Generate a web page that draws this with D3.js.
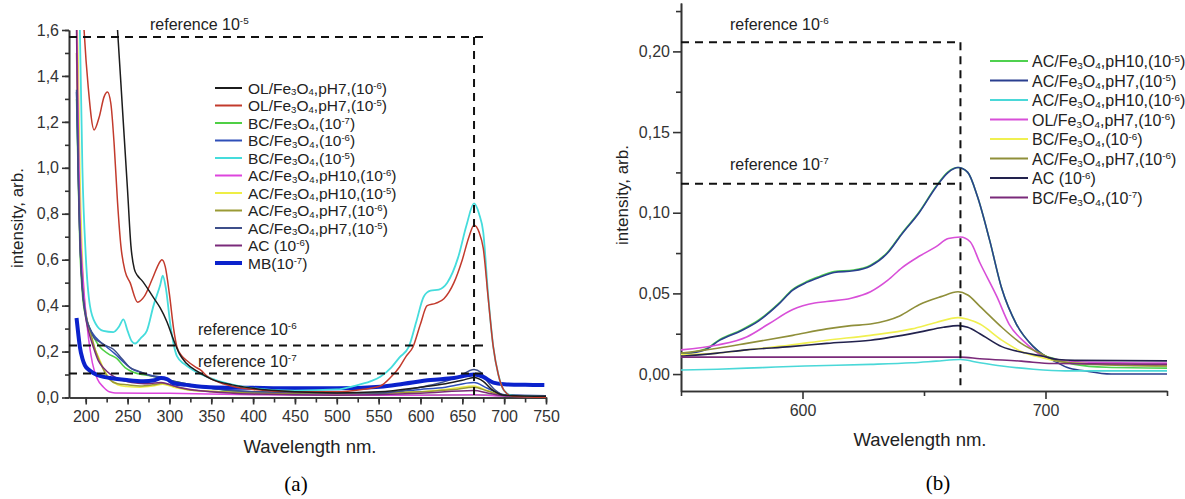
<!DOCTYPE html>
<html>
<head>
<meta charset="utf-8">
<script src="https://cdn.jsdelivr.net/npm/d3@7"></script>
<style>
  body { margin: 0; background: #fff; }
  svg { font-family: "Liberation Sans", Arial, sans-serif; }
  .axis path, .axis line { stroke: #333; stroke-width: 1.6; }
  .axis text { fill: #333; font-size: 16px; font-family: "Liberation Sans", Arial, sans-serif; }
</style>
</head>
<body>
<svg id="chart" width="1185" height="499"></svg>
<script>
// ---------- panel (a) data: [wavelength nm, intensity] ----------
const olPh7_6 = [[234,1.8],[238,1.6],[244,1.25],[250,0.9],[254,0.66],[258,0.56],[262,0.53],[267,0.51],[280,0.44],[289,0.39],[297,0.33],[305,0.25],[312,0.19],[320,0.15],[335,0.11],[350,0.08],[375,0.055],[400,0.04],[450,0.025],[500,0.02],[550,0.025],[600,0.045],[630,0.06],[650,0.075],[664,0.087],[675,0.07],[685,0.035],[700,0.01],[750,0.005]];
const olPh7_5 = [[194,1.9],[198,1.6],[203,1.35],[210,1.165],[216,1.22],[222,1.31],[226,1.33],[230,1.28],[234,1.1],[238,0.85],[242,0.66],[247,0.55],[253,0.5],[262,0.415],[270,0.44],[280,0.52],[287,0.58],[291,0.6],[295,0.57],[300,0.45],[305,0.3],[309,0.22],[315,0.18],[321,0.16],[330,0.135],[337,0.12],[346,0.09],[360,0.065],[380,0.045],[400,0.035],[450,0.025],[500,0.025],[530,0.035],[552,0.05],[565,0.09],[575,0.133],[583,0.18],[591,0.22],[600,0.32],[608,0.4],[618,0.41],[628,0.43],[640,0.5],[650,0.6],[658,0.7],[664,0.75],[670,0.72],[675,0.65],[681,0.43],[687,0.22],[693,0.1],[700,0.03],[710,0.005],[750,0.0]];
const bc_7 = [[189,1.3],[191,0.95],[193,0.65],[196,0.45],[200,0.35],[205,0.3],[210,0.26],[217,0.22],[227,0.19],[237,0.17],[247,0.13],[257,0.11],[267,0.1],[277,0.095],[290,0.085],[300,0.075],[320,0.06],[350,0.04],[400,0.02],[500,0.01],[600,0.01],[664,0.012],[700,0.008],[750,0.005]];
const bc_6 = [[189,1.33],[191,1.0],[193,0.7],[196,0.48],[200,0.36],[205,0.3],[210,0.27],[215,0.25],[225,0.22],[235,0.19],[245,0.155],[255,0.125],[265,0.11],[280,0.095],[290,0.088],[300,0.075],[320,0.055],[350,0.04],[400,0.025],[500,0.02],[550,0.02],[600,0.035],[630,0.045],[664,0.065],[680,0.04],[700,0.012],[750,0.008]];
const bc_5 = [[190,1.9],[193,1.6],[196,1.0],[200,0.62],[205,0.4],[212,0.32],[221,0.29],[233,0.285],[240,0.31],[245,0.34],[250,0.29],[255,0.245],[259,0.235],[266,0.26],[273,0.29],[281,0.4],[289,0.49],[292,0.53],[296,0.47],[301,0.32],[309,0.18],[318,0.145],[328,0.12],[345,0.09],[370,0.06],[400,0.04],[450,0.03],[500,0.035],[520,0.05],[540,0.07],[552,0.09],[565,0.13],[575,0.175],[586,0.22],[595,0.33],[604,0.44],[612,0.465],[622,0.47],[632,0.5],[645,0.61],[655,0.75],[664,0.845],[670,0.8],[675,0.72],[681,0.44],[687,0.22],[693,0.1],[700,0.03],[710,0.008],[750,0.003]];
const acPh10_6 = [[189,1.7],[191,1.2],[193,0.8],[197,0.51],[202,0.3],[208,0.15],[214,0.08],[221,0.046],[228,0.025],[235,0.02],[300,0.018],[400,0.012],[500,0.01],[600,0.01],[664,0.012],[700,0.006],[750,0.004]];
const acPh10_5 = [[189,1.7],[191,1.45],[193,1.0],[196,0.6],[199,0.4],[205,0.28],[210,0.22],[216,0.17],[222,0.12],[229,0.08],[238,0.055],[249,0.048],[265,0.045],[280,0.05],[292,0.058],[305,0.045],[330,0.03],[400,0.02],[500,0.015],[600,0.025],[640,0.04],[664,0.05],[680,0.03],[700,0.01],[750,0.005]];
const acPh7_6 = [[189,1.5],[191,1.1],[193,0.75],[196,0.5],[200,0.37],[206,0.28],[212,0.2],[220,0.13],[228,0.08],[238,0.06],[250,0.055],[265,0.05],[280,0.055],[292,0.062],[305,0.05],[330,0.03],[400,0.02],[500,0.015],[600,0.025],[640,0.035],[664,0.045],[680,0.028],[700,0.01],[750,0.005]];
const acPh7_5 = [[189,1.34],[191,1.0],[193,0.7],[196,0.48],[200,0.36],[206,0.29],[210,0.26],[215,0.245],[225,0.225],[233,0.21],[243,0.17],[253,0.13],[263,0.115],[273,0.1],[289,0.085],[300,0.075],[320,0.06],[350,0.04],[400,0.025],[500,0.02],[552,0.02],[600,0.045],[623,0.063],[645,0.09],[664,0.122],[672,0.11],[680,0.07],[690,0.03],[700,0.012],[750,0.008]];
const ac_6 = [[189,1.6],[191,1.0],[194,0.6],[199,0.37],[204,0.28],[209,0.22],[215,0.16],[221,0.13],[230,0.1],[240,0.08],[255,0.065],[270,0.06],[290,0.065],[310,0.045],[350,0.025],[400,0.015],[500,0.01],[600,0.018],[664,0.03],[680,0.02],[700,0.008],[750,0.005]];
const mb_7 = [[189,0.346],[191,0.28],[193,0.22],[196,0.17],[199,0.14],[204,0.12],[209,0.107],[218,0.093],[229,0.085],[249,0.076],[269,0.071],[282,0.075],[290,0.085],[297,0.08],[305,0.062],[320,0.055],[348,0.045],[400,0.042],[450,0.04],[500,0.04],[552,0.047],[580,0.06],[612,0.076],[640,0.085],[664,0.1],[675,0.09],[687,0.065],[700,0.058],[725,0.055],[748,0.054]];

const refA = [1.57, 0.226, 0.104];       // reference 10^-5, 10^-6, 10^-7
const peakA = 664;

// ---------- panel (b) data ----------
const bAcPh10_5 = [[550,0.0125],[560,0.0155],[566,0.0215],[575,0.0275],[582,0.0335],[590,0.0435],[596,0.0525],[602,0.0575],[607,0.0605],[613,0.0635],[621,0.0645],[628,0.0675],[635,0.0755],[641,0.0875],[648,0.1005],[655,0.1165],[660,0.1255],[664,0.128],[668,0.125],[672,0.11],[677,0.083],[682,0.053],[688,0.031],[695,0.017],[699,0.012],[705,0.009],[712,0.006],[725,0.0042],[750,0.0037]];
const bAcPh7_5 = [[550,0.012],[560,0.015],[566,0.021],[575,0.027],[582,0.033],[590,0.043],[596,0.052],[602,0.057],[607,0.06],[613,0.063],[621,0.064],[628,0.067],[635,0.075],[641,0.087],[648,0.1],[655,0.116],[660,0.125],[664,0.128],[668,0.125],[672,0.11],[677,0.083],[682,0.053],[688,0.031],[695,0.017],[699,0.012],[705,0.007],[709,0.004],[716,0.002],[727,0.0],[750,0.0]];
const bAcPh10_6 = [[550,0.0025],[565,0.003],[583,0.004],[601,0.005],[628,0.006],[645,0.007],[655,0.008],[665,0.009],[673,0.007],[682,0.005],[695,0.003],[708,0.002],[750,0.002]];
const bOlPh7_6 = [[550,0.015],[565,0.018],[577,0.023],[586,0.031],[596,0.04],[605,0.044],[610,0.045],[620,0.047],[628,0.051],[635,0.058],[641,0.066],[648,0.073],[655,0.079],[660,0.084],[665,0.085],[669,0.082],[673,0.069],[680,0.048],[685,0.031],[692,0.019],[699,0.011],[705,0.009],[715,0.0075],[750,0.0068]];
const bBc_6 = [[550,0.012],[565,0.013],[577,0.015],[595,0.018],[610,0.021],[628,0.024],[645,0.028],[655,0.032],[664,0.035],[668,0.034],[673,0.031],[682,0.021],[690,0.014],[699,0.01],[710,0.007],[750,0.005]];
const bAcPh7_6 = [[550,0.013],[565,0.016],[577,0.019],[596,0.024],[610,0.028],[620,0.03],[628,0.031],[640,0.036],[648,0.043],[657,0.048],[664,0.051],[668,0.049],[673,0.042],[682,0.029],[690,0.019],[699,0.012],[705,0.008],[720,0.006],[750,0.005]];
const bAc_6 = [[550,0.011],[565,0.013],[577,0.015],[595,0.017],[610,0.019],[628,0.021],[648,0.026],[658,0.029],[664,0.03],[668,0.029],[673,0.025],[682,0.017],[692,0.013],[699,0.011],[705,0.009],[712,0.0085],[750,0.0082]];
const bBc_7 = [[550,0.0105],[600,0.0105],[650,0.0105],[665,0.0105],[673,0.0095],[690,0.008],[703,0.0065],[750,0.006]];

const refB = [0.2056, 0.118];            // reference 10^-6, 10^-7
const peakB = 665;

// legend labels (_x = subscript char, ^.. = superscript)
const seriesA = [
  {label: "OL/Fe_3O_4,pH7,(10^-6)", color: "#1c1c1c", w: 1.5, data: olPh7_6},
  {label: "OL/Fe_3O_4,pH7,(10^-5)", color: "#c23a2c", w: 1.5, data: olPh7_5},
  {label: "BC/Fe_3O_4,(10^-7)", color: "#4fcf45", w: 1.5, data: bc_7},
  {label: "BC/Fe_3O_4,(10^-6)", color: "#2f4fb8", w: 1.5, data: bc_6},
  {label: "BC/Fe_3O_4,(10^-5)", color: "#45dcdc", w: 1.8, data: bc_5},
  {label: "AC/Fe_3O_4,pH10,(10^-6)", color: "#dd45dd", w: 1.5, data: acPh10_6},
  {label: "AC/Fe_3O_4,pH10,(10^-5)", color: "#eeee45", w: 1.5, data: acPh10_5},
  {label: "AC/Fe_3O_4,pH7,(10^-6)", color: "#9a9a35", w: 1.5, data: acPh7_6},
  {label: "AC/Fe_3O_4,pH7,(10^-5)", color: "#3e4f8a", w: 1.5, data: acPh7_5},
  {label: "AC (10^-6)", color: "#7a2a7a", w: 1.5, data: ac_6},
  {label: "MB(10^-7)", color: "#0b22cc", w: 4, data: mb_7}
];
const drawOrderA = [2, 3, 6, 7, 5, 9, 8, 10, 4, 1, 0];

const seriesB = [
  {label: "AC/Fe_3O_4,pH10,(10^-5)", color: "#4fd14f", data: bAcPh10_5},
  {label: "AC/Fe_3O_4,pH7,(10^-5)", color: "#2a3f8f", data: bAcPh7_5},
  {label: "AC/Fe_3O_4,pH10,(10^-6)", color: "#4ad8d8", data: bAcPh10_6},
  {label: "OL/Fe_3O_4,pH7,(10^-6)", color: "#d84fd8", data: bOlPh7_6},
  {label: "BC/Fe_3O_4,(10^-6)", color: "#f0f050", data: bBc_6},
  {label: "AC/Fe_3O_4,pH7,(10^-6)", color: "#8f8f3a", data: bAcPh7_6},
  {label: "AC (10^-6)", color: "#22224d", data: bAc_6},
  {label: "BC/Fe_3O_4,(10^-7)", color: "#7a2a7a", data: bBc_7}
];

const svg = d3.select("#chart");

// write label with sub/superscripts as tspans
function richText(t, str, sub, sup) {
  sub = sub || 3; sup = sup || -6;
  let parts = str.split(/(_\d|\^-?\d+)/).filter(s => s.length);
  let shift = 0;
  parts.forEach(p => {
    let ts = t.append("tspan");
    let target = 0;
    if (p[0] === "_") { target = sub; ts.text(p.slice(1)).attr("font-size", "0.62em"); }
    else if (p[0] === "^") { target = sup; ts.text(p.slice(1)).attr("font-size", "0.62em"); }
    else ts.text(p);
    if (target !== shift) { ts.attr("dy", target - shift); shift = target; }
  });
}

function dashed(g, x1, y1, x2, y2) {
  g.append("line").attr("x1", x1).attr("y1", y1).attr("x2", x2).attr("y2", y2)
    .attr("stroke", "#111").attr("stroke-width", 2).attr("stroke-dasharray", "8,6");
}

function refLabel(g, x, y, power) {
  let t = g.append("text").attr("x", x).attr("y", y).attr("font-size", 16).attr("fill", "#222");
  richText(t, "reference 10^" + power);
}

// ================= panel (a) =================
const xA = d3.scaleLinear().domain([180, 750]).range([69, 546]);
const yA = d3.scaleLinear().domain([0, 1.6]).range([397.5, 30]);
const commaFmt = f => d => d3.format(f)(d).replace(".", ",");

svg.append("clipPath").attr("id", "clipA").append("rect")
  .attr("x", 69).attr("y", 30).attr("width", 477).attr("height", 368);

// minor ticks
svg.append("g").attr("class", "axis").attr("transform", "translate(0,397.5)")
  .call(d3.axisBottom(xA).tickValues(d3.range(200, 751, 25)).tickSize(5).tickSizeOuter(0).tickFormat(""));
svg.append("g").attr("class", "axis").attr("transform", "translate(69,0)")
  .call(d3.axisLeft(yA).tickValues(d3.range(0, 1.61, 0.1)).tickSize(4).tickSizeOuter(0).tickFormat(""));
// major ticks
svg.append("g").attr("class", "axis").attr("transform", "translate(0,397.5)")
  .call(d3.axisBottom(xA).tickValues(d3.range(200, 751, 50)).tickSize(7).tickSizeOuter(0).tickPadding(6));
svg.append("g").attr("class", "axis").attr("transform", "translate(69,0)")
  .call(d3.axisLeft(yA).tickValues(d3.range(0, 1.61, 0.2)).tickSize(7).tickSizeOuter(0).tickPadding(3).tickFormat(commaFmt(".1f")));

const lineA = d3.line().x(d => xA(d[0])).y(d => yA(d[1])).curve(d3.curveMonotoneX);
const plotA = svg.append("g").attr("clip-path", "url(#clipA)");
drawOrderA.forEach(i => {
  let s = seriesA[i];
  plotA.append("path").attr("d", lineA(s.data)).attr("fill", "none")
    .attr("stroke", s.color).attr("stroke-width", s.w).attr("stroke-linejoin", "round");
});

// reference lines (a)
const refG = svg.append("g");
refA.forEach(v => dashed(refG, xA(180), yA(v), xA(677), yA(v)));
dashed(refG, xA(peakA), yA(refA[0]), xA(peakA), yA(0));
refLabel(refG, 150, 30, "-5");
refLabel(refG, 198, 335, "-6");
refLabel(refG, 198, 367, "-7");

// legend (a) - rows are tight, so keep the sub/superscript shifts small
seriesA.forEach((s, i) => {
  let y = 88 + i * 17.5;
  svg.append("line").attr("x1", 215).attr("x2", 242).attr("y1", y).attr("y2", y)
    .attr("stroke", s.color).attr("stroke-width", s.w === 4 ? 4 : 2);
  let t = svg.append("text").attr("x", 248).attr("y", y + 5.5).attr("font-size", 15.5).attr("fill", "#222");
  richText(t, s.label, 1.5, -5);
});

svg.append("text").attr("transform", "translate(23,218) rotate(-90)").attr("text-anchor", "middle")
  .attr("font-size", 17).attr("fill", "#222").text("intensity, arb.");
svg.append("text").attr("x", 310).attr("y", 453).attr("text-anchor", "middle")
  .attr("font-size", 18.5).attr("fill", "#222").text("Wavelength nm.");
svg.append("text").attr("x", 296).attr("y", 491).attr("text-anchor", "middle")
  .attr("font-family", "Liberation Serif, Times New Roman, serif").attr("font-size", 21).text("(a)");

// ================= panel (b) =================
const xB = d3.scaleLinear().domain([550, 750]).range([681, 1167]);
const yB = d3.scaleLinear().domain([-0.0105, 0.23]).range([391, 3]);

svg.append("clipPath").attr("id", "clipB").append("rect")
  .attr("x", 681).attr("y", 3).attr("width", 486).attr("height", 388);

svg.append("g").attr("class", "axis").attr("transform", "translate(0,391)")
  .call(d3.axisBottom(xB).tickValues([550, 650, 750]).tickSize(5).tickSizeOuter(0).tickFormat(""));
svg.append("g").attr("class", "axis").attr("transform", "translate(0,391)")
  .call(d3.axisBottom(xB).tickValues([600, 700]).tickSize(8).tickSizeOuter(0).tickPadding(6).tickFormat(d3.format("d")));
svg.append("g").attr("class", "axis").attr("transform", "translate(681,0)")
  .call(d3.axisLeft(yB).tickValues([0.025, 0.075, 0.125, 0.175, 0.225]).tickSize(5).tickSizeOuter(0).tickFormat(""));
svg.append("g").attr("class", "axis").attr("transform", "translate(681,0)")
  .call(d3.axisLeft(yB).tickValues([0, 0.05, 0.1, 0.15, 0.2]).tickSize(8).tickSizeOuter(0).tickPadding(3).tickFormat(commaFmt(".2f")));

const lineB = d3.line().x(d => xB(d[0])).y(d => yB(d[1])).curve(d3.curveMonotoneX);
const plotB = svg.append("g").attr("clip-path", "url(#clipB)");
// draw in legend order so the dark blue sits over the green
seriesB.forEach(s => {
  plotB.append("path").attr("d", lineB(s.data)).attr("fill", "none")
    .attr("stroke", s.color).attr("stroke-width", 1.6).attr("stroke-linejoin", "round");
});

const refGB = svg.append("g");
refB.forEach(v => dashed(refGB, xB(550), yB(v), xB(peakB), yB(v)));
dashed(refGB, xB(peakB), yB(refB[0]), xB(peakB), yB(-0.007));
refLabel(refGB, 730, 30, "-6");
refLabel(refGB, 730, 170, "-7");

seriesB.forEach((s, i) => {
  let y = 61 + i * 19.5;
  svg.append("line").attr("x1", 990).attr("x2", 1028).attr("y1", y).attr("y2", y)
    .attr("stroke", s.color).attr("stroke-width", 2);
  let t = svg.append("text").attr("x", 1032).attr("y", y + 6).attr("font-size", 16).attr("fill", "#222");
  richText(t, s.label, 2, -5.5);
});

svg.append("text").attr("transform", "translate(628,195) rotate(-90)").attr("text-anchor", "middle")
  .attr("font-size", 17).attr("fill", "#222").text("intensity, arb.");
svg.append("text").attr("x", 920).attr("y", 446).attr("text-anchor", "middle")
  .attr("font-size", 18.5).attr("fill", "#222").text("Wavelength nm.");
svg.append("text").attr("x", 938).attr("y", 490).attr("text-anchor", "middle")
  .attr("font-family", "Liberation Serif, Times New Roman, serif").attr("font-size", 21).text("(b)");
</script>
</body>
</html>
